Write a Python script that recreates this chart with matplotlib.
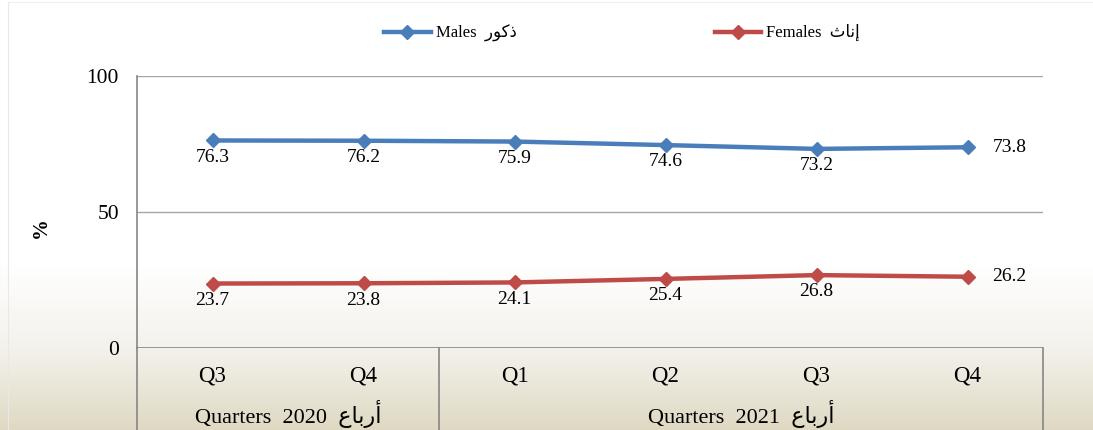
import numpy as np
import matplotlib
matplotlib.use("Agg")
import matplotlib.pyplot as plt
from matplotlib.colors import LinearSegmentedColormap

# ---- data ----
quarters = ["Q3", "Q4", "Q1", "Q2", "Q3", "Q4"]
years = ["2020", "2021"]
year_counts = [2, 4]
males = [76.3, 76.2, 75.9, 74.6, 73.2, 73.8]
females = [23.7, 23.8, 24.1, 25.4, 26.8, 26.2]
y_ticks = [0, 50, 100]

# Arabic words, pre-shaped in visual (left-to-right) order
AR_MALES = "\uFEAD\uFEEE\uFEDB\uFEAB"        # ذكور
AR_FEMALES = "\uFE99\uFE8E\uFEE7\uFE87"      # إناث
AR_QUARTERS = "\uFEC9\uFE8E\uFE91\uFEAD\uFE83"  # أرباع

FAM = ["Liberation Serif", "DejaVu Sans"]
plt.rcParams["font.family"] = FAM

BLUE = "#4A7EBB"
RED = "#BE4B48"
GRID = "#A6A6A6"
AXC = "#868686"

W, H = 1093, 430
fig = plt.figure(figsize=(W / 100, H / 100), dpi=100)

# background gradient
bg = fig.add_axes([0, 0, 1, 1], zorder=-10)
bg.axis("off")
rows = np.arange(H)
t = np.clip((rows - 262) / (H - 262), 0, 1)
grad = t[:, None] * np.ones((1, 2))
cmap = LinearSegmentedColormap.from_list("bg", ["#FFFFFF", "#F4F2EC", "#DFD9C3"])
bg.imshow(grad, aspect="auto", cmap=cmap, vmin=0, vmax=1, extent=[0, 1, 0, 1], origin="upper")
bg.set_xlim(0, 1); bg.set_ylim(0, 1)
# faint outer border
bg.plot([8 / W, 8 / W], [0, 1 - 2 / H], color="#E8E8E8", lw=0.8)
bg.plot([8 / W, 1], [1 - 2 / H, 1 - 2 / H], color="#EEEEEE", lw=0.8)

L, R, T, B = 137, 1043, 76, 348
ax = fig.add_axes([L / W, 1 - B / H, (R - L) / W, (B - T) / H])
ax.set_facecolor("none")

n = len(quarters)
x = np.arange(n) + 0.5
ax.set_xlim(0, n)
ax.set_ylim(0, 100)

for v in y_ticks[1:]:
    ax.axhline(v, color=GRID, lw=1.0, zorder=1)

lm, = ax.plot(x, males, color=BLUE, lw=3.2, marker="D", ms=7.5, zorder=3,
              label="Males  " + AR_MALES)
lf, = ax.plot(x, females, color=RED, lw=3.2, marker="D", ms=7.5, zorder=3,
              label="Females  " + AR_FEMALES)

for series in (males, females):
    for i, v in enumerate(series):
        if i == n - 1:
            ax.annotate(f"{v:.1f}", (x[i], v), xytext=(18, 0), textcoords="offset points",
                        ha="left", va="center", fontsize=14)
        else:
            ax.annotate(f"{v:.1f}", (x[i], v), xytext=(0, -6), textcoords="offset points",
                        ha="center", va="top", fontsize=14)

ax.set_yticks(y_ticks)
ax.set_yticklabels([str(v) for v in y_ticks], fontsize=15.5)
ax.set_xticks([])
ax.tick_params(axis="y", length=0, pad=13)
for s in ["top", "right", "bottom"]:
    ax.spines[s].set_visible(False)
ax.spines["left"].set_color(AXC)
ax.spines["left"].set_linewidth(1.2)
ax.axhline(0, color=AXC, lw=1.2, zorder=2)

ax.set_ylabel("%", fontsize=15, fontweight="bold")
ax.yaxis.set_label_coords(-(L - 51) / (R - L), (B - 228) / (B - T))

# category table below axes
tr = ax.get_xaxis_transform()
row1 = -(376 - B) / (B - T)
row2 = -(414 - B) / (B - T)
bottom = -(H - B) / (B - T) - 0.01
ax.plot([0, 0], [0, bottom], transform=tr, color=AXC, lw=1.2, clip_on=False)
ax.plot([n, n], [0, bottom], transform=tr, color=AXC, lw=1.2, clip_on=False)
for i, q in enumerate(quarters):
    ax.text(x[i], row1, q, transform=tr, ha="center", va="center", fontsize=16.5)
start = 0
for yr, c in zip(years, year_counts):
    end = start + c
    ax.text((start + end) / 2, row2, f"Quarters  {yr}  " + AR_QUARTERS, transform=tr,
            ha="center", va="center", fontsize=16)
    if end < n:
        ax.plot([end, end], [0, bottom], transform=tr, color=AXC, lw=1.2, clip_on=False)
    start = end

leg = ax.legend(handles=[lm, lf], loc="center",
                bbox_to_anchor=((622 - L) / (R - L), (B - 33) / (B - T)),
                ncol=2, frameon=False, fontsize=12, handlelength=2.8, handletextpad=0.3,
                columnspacing=11.9)

fig.savefig("out.png", dpi=100)
